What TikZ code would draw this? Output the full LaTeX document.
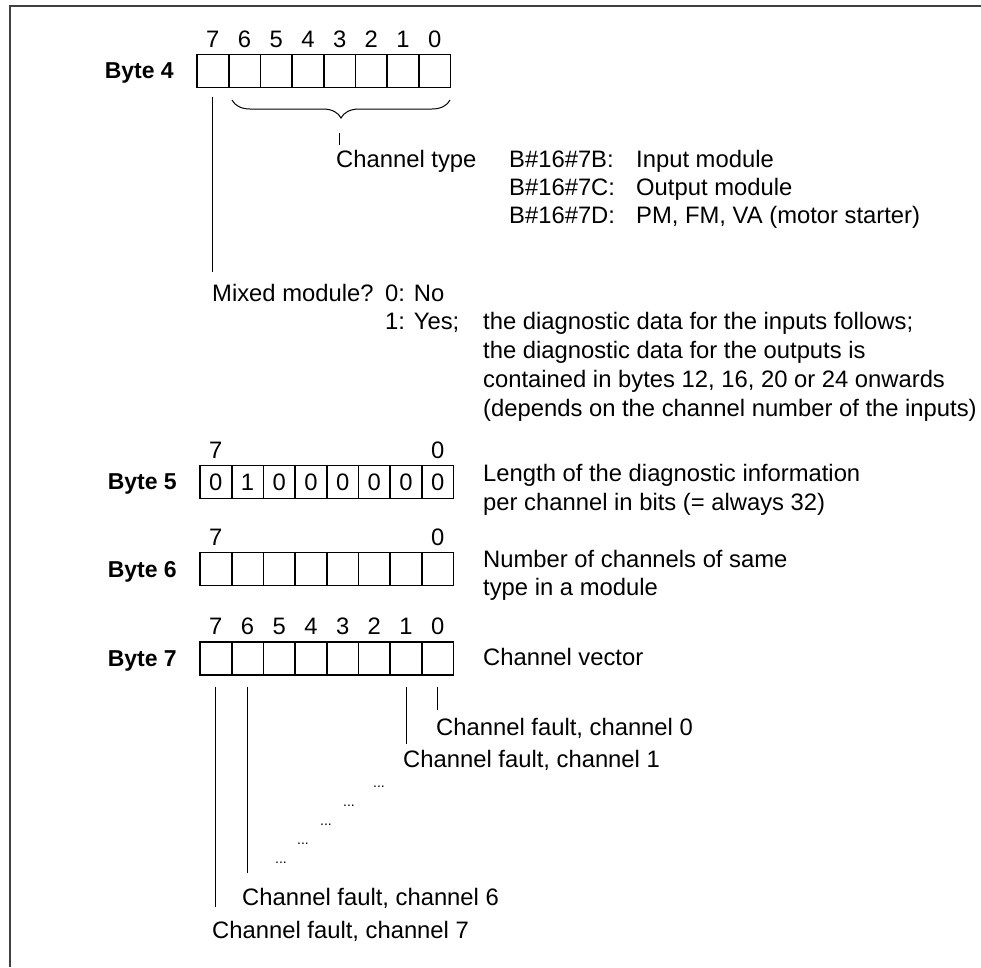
\documentclass[tikz,border=0pt]{standalone}
\usepackage{fontspec}
\setmainfont{Liberation Sans}
\usetikzlibrary{positioning,decorations.pathreplacing}

\tikzset{
  txt/.style={inner sep=0pt, anchor=base west, font=\fontsize{23.8}{29}\selectfont},
  cell/.style={draw, line width=1.6pt, minimum width=31.7pt, minimum height=33pt,
    inner sep=0pt, outer sep=0pt, text depth=0pt, font=\fontsize{23.8}{29}\selectfont},
  bitnum/.style={inner sep=0pt, text depth=0pt, font=\fontsize{23.8}{29}\selectfont},
  bytelabel/.style={inner sep=0pt, text depth=0pt, font=\fontsize{23}{29}\selectfont\bfseries},
  lead/.style={line width=1pt},
  dotsmark/.style={inner sep=0pt, anchor=base, font=\fontsize{14}{14}\selectfont},
  frame/.style={line width=1.8pt, draw=black!75},
}

% eight cells of one byte: prefix, left x, centre y, cell texts (bit 7 first)
\newcommand\bytecells[4]{%
  \foreach \val [count=\i from 0] in {#4} {
    \pgfmathtruncatemacro\bit{7-\i}
    \node[cell] (#1c\bit) at ({#2+31.7*(\i+0.5)},#3) {\val};
  }}

\begin{document}
\begin{tikzpicture}[x=1pt,y=-1pt]
\useasboundingbox (0,0) rectangle (981,967);
\draw[frame] (9.8,967) -- (9.8,5.8) -- (981,5.8);

% byte 4
\bytecells{b4}{197}{71}{{},{},{},{},{},{},{},{}}
\foreach \b in {7,...,0}
  \node[bitnum, above=7pt of b4c\b] (b4n\b) {\b};
\node[bytelabel, left=23pt of b4c7] (byte4) {Byte 4};

\coordinate (brL) at (232,100);
\coordinate (brR) at (450,100);
\coordinate (brtip) at (339,118);
\draw[lead, decorate, decoration={brace, mirror, amplitude=18pt}] (brL) -- (brR);

\node[txt] (ctype) at (336,167) {Channel type};
\node[txt] (t7b) at (509,167) {B\#16\#7B:};
\node[txt] (t7c) at (509,195) {B\#16\#7C:};
\node[txt] (t7d) at (509,223) {B\#16\#7D:};
\node[txt] (inmod) at (636,167) {Input module};
\node[txt] (outmod) at (636,195) {Output module};
\node[txt] (pmmod) at (636,223) {PM, FM, VA (motor starter)};
\draw[lead, shorten <=15pt, shorten >=4.6pt] (brtip) -- (brtip |- ctype.north);

\node[txt] (mixed) at (212,301) {Mixed module?};
\node[txt] (no) at (385,301) {0: No};
\node[txt] (yes) at (385,329) {1: Yes;};
\node[txt] (yes1) at (483,329) {the diagnostic data for the inputs follows;};
\node[txt] (yes2) at (483,358) {the diagnostic data for the outputs is};
\node[txt] (yes3) at (483,387) {contained in bytes 12, 16, 20 or 24 onwards};
\node[txt] (yes4) at (483,416) {(depends on the channel number of the inputs)};
\draw[lead, shorten >=12pt] ([yshift=-9pt]b4c7.south) -- (b4c7.south |- mixed.north);

% byte 5
\bytecells{b5}{200}{482}{0,1,0,0,0,0,0,0}
\foreach \b in {7,0}
  \node[bitnum, above=7pt of b5c\b] (b5n\b) {\b};
\node[bytelabel, left=23pt of b5c7] (byte5) {Byte 5};
\node[txt] (len1) at (483,481) {Length of the diagnostic information};
\node[txt] (len2) at (483,510) {per channel in bits (= always 32)};

% byte 6
\bytecells{b6}{200}{569}{{},{},{},{},{},{},{},{}}
\foreach \b in {7,0}
  \node[bitnum, above=7pt of b6c\b] (b6n\b) {\b};
\node[bytelabel, left=23pt of b6c7] (byte6) {Byte 6};
\node[txt] (num1) at (483,567) {Number of channels of same};
\node[txt] (num2) at (483,595) {type in a module};

% byte 7
\bytecells{b7}{200}{658.5}{{},{},{},{},{},{},{},{}}
\foreach \b in {7,...,0}
  \node[bitnum, above=7pt of b7c\b] (b7n\b) {\b};
\node[bytelabel, left=23pt of b7c7] (byte7) {Byte 7};
\node[txt] (cvec) at (483,665) {Channel vector};

\node[txt] (f0) at (436,735) {Channel fault, channel 0};
\node[txt] (f1) at (403,767) {Channel fault, channel 1};
\node[txt] (f6) at (242,905) {Channel fault, channel 6};
\node[txt] (f7) at (212,938) {Channel fault, channel 7};

\draw[lead, shorten >=8pt] ([yshift=-12pt]b7c0.south) -- (b7c0.south |- f0.north);
\draw[lead, shorten >=6pt] ([yshift=-12pt]b7c1.south) -- (b7c1.south |- f1.north);
\draw[lead, shorten >=14.6pt] ([yshift=-12pt]b7c6.south) -- (b7c6.south |- f6.north);
\draw[lead, shorten >=13.6pt] ([yshift=-12pt]b7c7.south) -- (b7c7.south |- f7.north);

\node[dotsmark] (d1) at (379,787) {...};
\node[dotsmark] (d2) at (349,806) {...};
\node[dotsmark] (d3) at (326,825) {...};
\node[dotsmark] (d4) at (303,844) {...};
\node[dotsmark] (d5) at (281,863) {...};
\end{tikzpicture}
\end{document}
